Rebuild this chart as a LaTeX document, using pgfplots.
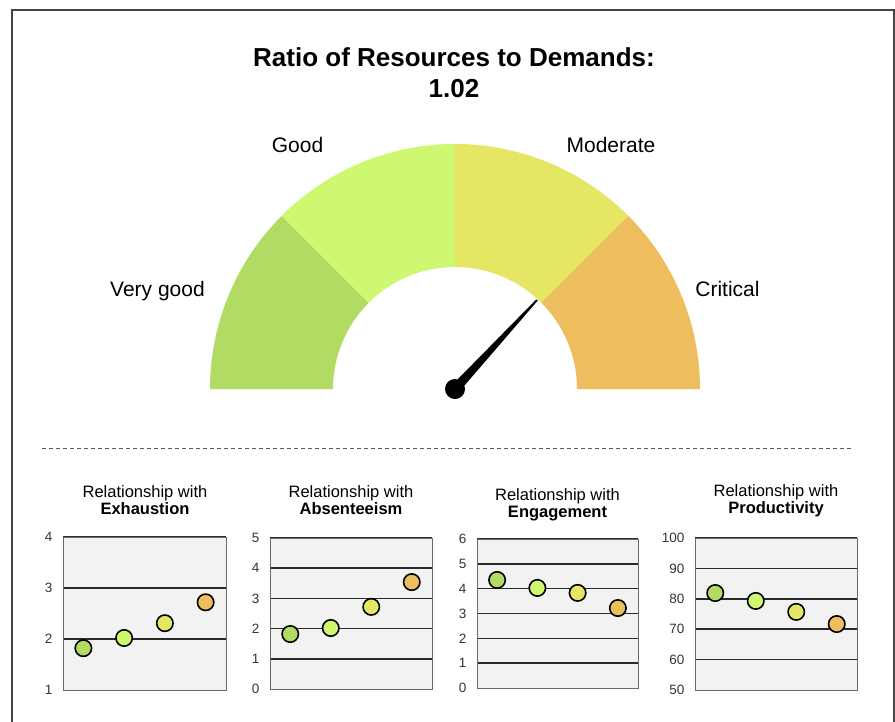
\documentclass[border=0pt]{standalone}
\usepackage{pgfplots}
\pgfplotsset{compat=1.18}
\usepackage{fontspec}
\setmainfont{Liberation Sans}
\definecolor{vg}{HTML}{B2DB63}
\definecolor{gd}{HTML}{CDF86F}
\definecolor{md}{HTML}{E5E664}
\definecolor{cr}{HTML}{EEBE5E}
\definecolor{bgc}{HTML}{F2F2F2}
\definecolor{gridc}{HTML}{2A2A2A}
\definecolor{boxc}{HTML}{6A6A6A}
\definecolor{tickc}{HTML}{333333}
\definecolor{framec}{HTML}{444444}
\pgfplotsset{
 small/.style={scale only axis, anchor=south west, xmin=0.5, xmax=4.5, xtick=\empty,
   ymajorgrids, grid style={color=gridc, line width=1.6pt},
   axis background/.style={fill=bgc}, axis line style={color=boxc, line width=0.9pt},
   major tick length=0pt, tick style={draw=none},
   yticklabel style={font=\fontsize{13.5}{15}\selectfont, text=tickc, xshift=-7pt},
   /pgf/number format/assume math mode=true, clip=false,
   extra tick style={grid=none}},
 pnt/.style={only marks, mark=*, mark size=8.2pt, mark options={draw=black, fill=#1, line width=1.6pt}},
}
\begin{document}
\begin{tikzpicture}
\useasboundingbox (0pt,0pt) rectangle (895pt,721pt);
% gauge
\begin{axis}[at={(0pt,0pt)}, anchor=south west, x=1pt, y=1pt, xmin=0, xmax=895, ymin=0, ymax=721,
  y dir=reverse, hide axis, clip=false]
 \fill[vg] (axis cs:210,389) arc[start angle=180,end angle=135,radius=245pt] -- (axis cs:368.73,302.73) arc[start angle=135,end angle=180,radius=122pt] -- cycle;
 \fill[gd] (axis cs:281.76,215.76) arc[start angle=135,end angle=90,radius=245pt] -- (axis cs:455,267) arc[start angle=90,end angle=135,radius=122pt] -- cycle;
 \fill[md] (axis cs:455,144) arc[start angle=90,end angle=45,radius=245pt] -- (axis cs:541.27,302.73) arc[start angle=45,end angle=90,radius=122pt] -- cycle;
 \fill[cr] (axis cs:628.24,215.76) arc[start angle=45,end angle=0,radius=245pt] -- (axis cs:577,389) arc[start angle=0,end angle=45,radius=122pt] -- cycle;
 \fill[black] (axis cs:458.6,392.3) -- (axis cs:537.7,300.6) -- (axis cs:536.3,299.4) -- (axis cs:451.4,385.7) -- cycle;
 \fill[black] (axis cs:455,389) circle[radius=10pt];
 \draw[color=black!65, line width=0.9pt, dash pattern=on 4pt off 3pt] (axis cs:42,448) -- (axis cs:852,448);
\end{axis}
% small charts
\begin{axis}[small, at={(63pt,31pt)}, width=163pt, height=153pt, ymin=1, ymax=4, ytick={2,3,4}, extra y ticks={1}]
 \addplot[pnt=vg] coordinates {(1,1.82)};
 \addplot[pnt=gd] coordinates {(2,2.02)};
 \addplot[pnt=md] coordinates {(3,2.31)};
 \addplot[pnt=cr] coordinates {(4,2.72)};
\end{axis}
\begin{axis}[small, at={(270pt,32pt)}, width=162pt, height=151pt, ymin=0, ymax=5, ytick={1,2,3,4,5}, extra y ticks={0}]
 \addplot[pnt=vg] coordinates {(1,1.82)};
 \addplot[pnt=gd] coordinates {(2,2.02)};
 \addplot[pnt=md] coordinates {(3,2.72)};
 \addplot[pnt=cr] coordinates {(4,3.54)};
\end{axis}
\begin{axis}[small, at={(477pt,33pt)}, width=161pt, height=149pt, ymin=0, ymax=6, ytick={1,2,3,4,5,6}, extra y ticks={0}]
 \addplot[pnt=vg] coordinates {(1,4.35)};
 \addplot[pnt=gd] coordinates {(2,4.03)};
 \addplot[pnt=md] coordinates {(3,3.83)};
 \addplot[pnt=cr] coordinates {(4,3.22)};
\end{axis}
\begin{axis}[small, at={(695pt,31pt)}, width=162pt, height=152pt, ymin=50, ymax=100, ytick={60,70,80,90,100}, extra y ticks={50}]
 \addplot[pnt=vg] coordinates {(1,81.9)};
 \addplot[pnt=gd] coordinates {(2,79.3)};
 \addplot[pnt=md] coordinates {(3,75.7)};
 \addplot[pnt=cr] coordinates {(4,71.7)};
\end{axis}
% frame
\draw[framec, line width=2pt] (12pt,-5pt) -- (12pt,710.7pt) -- (893.5pt,710.7pt) -- (893.5pt,-5pt);
% titles
\node[anchor=base, inner sep=0pt, font=\fontsize{26}{30}\selectfont\bfseries] at (454pt,654.5pt) {Ratio of Resources to Demands:};
\node[anchor=base, inner sep=0pt, font=\fontsize{26}{30}\selectfont\bfseries] at (454pt,623.5pt) {1.02};
\node[anchor=base, inner sep=0pt, font=\fontsize{21}{25}\selectfont] at (297.5pt,568pt) {Good};
\node[anchor=base, inner sep=0pt, font=\fontsize{21}{25}\selectfont] at (611pt,568pt) {Moderate};
\node[anchor=base, inner sep=0pt, font=\fontsize{21}{25}\selectfont] at (157.5pt,424pt) {Very good};
\node[anchor=base, inner sep=0pt, font=\fontsize{21}{25}\selectfont] at (727.5pt,424pt) {Critical};
\foreach \cx/\ya/\yb/\nm in {145/223/206/Exhaustion, 351/223/206/Absenteeism, 557.5/220/203/Engagement, 776/224/207/Productivity}{
  \node[anchor=base, inner sep=0pt, font=\fontsize{16.5}{19}\selectfont] at (\cx pt,\ya pt) {Relationship with};
  \node[anchor=base, inner sep=0pt, font=\fontsize{16.5}{19}\selectfont\bfseries] at (\cx pt,\yb pt) {\nm};
}
\end{tikzpicture}
\end{document}
